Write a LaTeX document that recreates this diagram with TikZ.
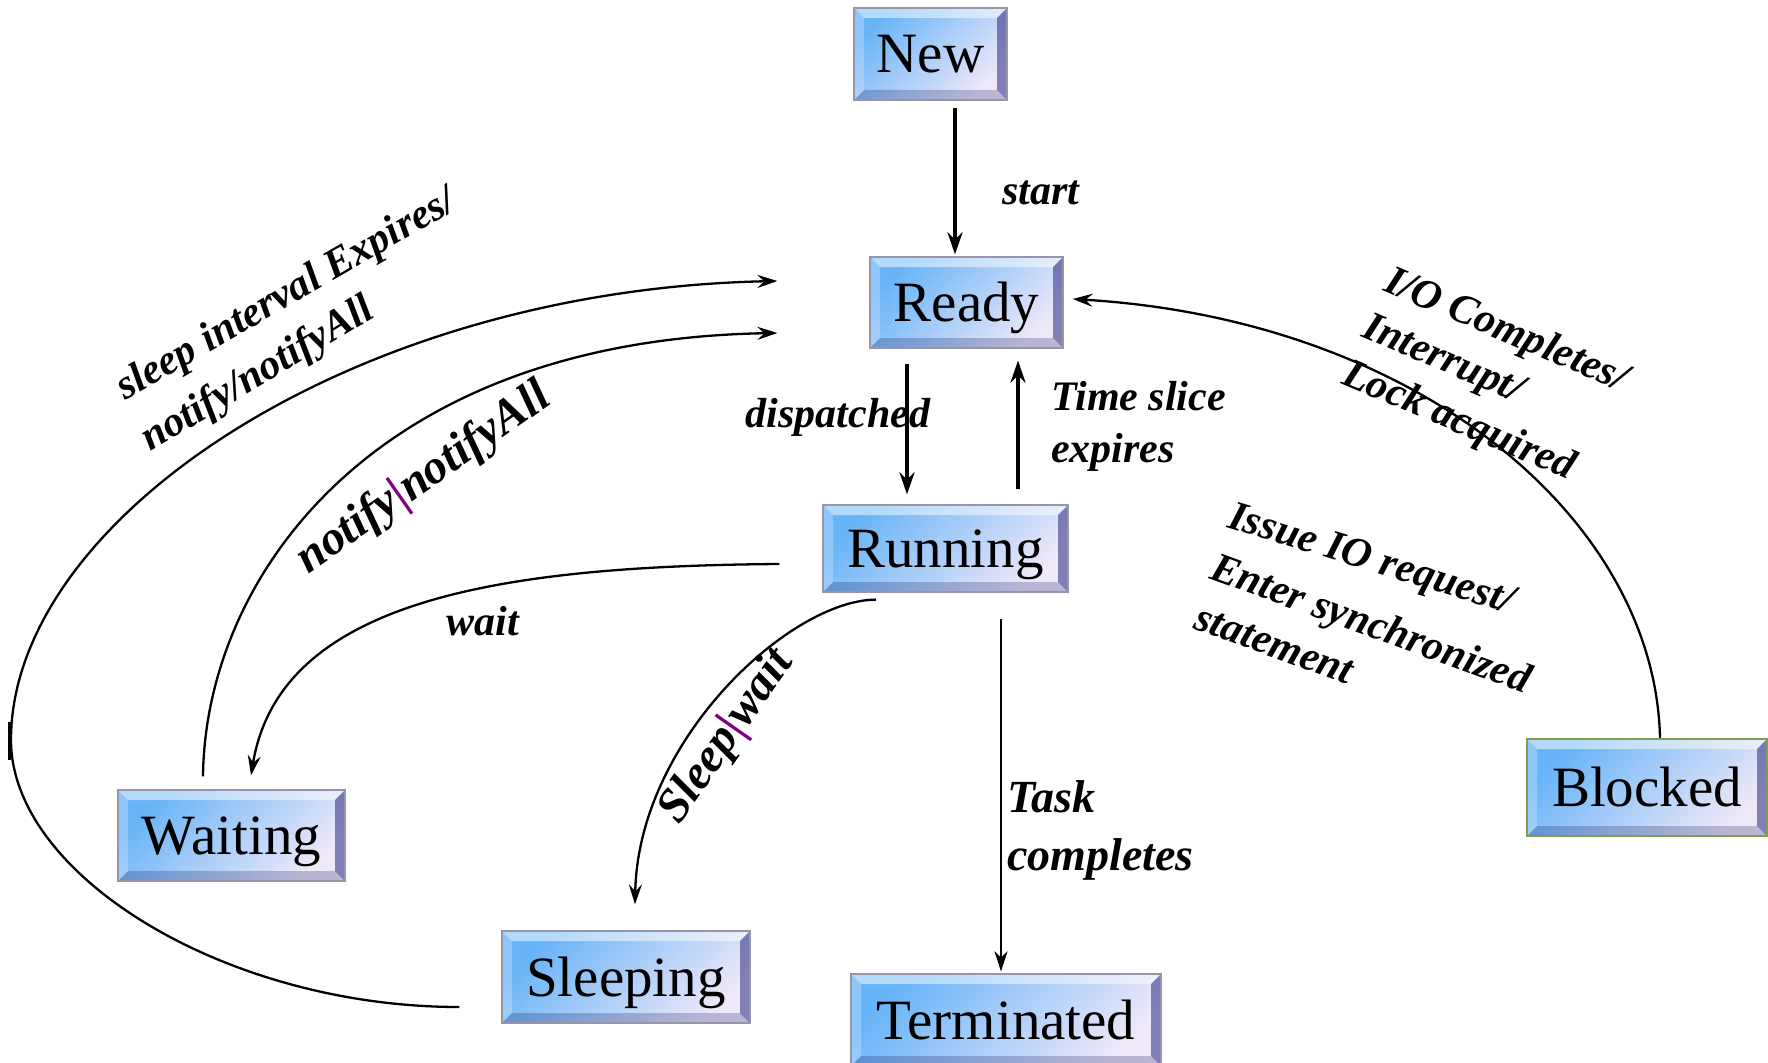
\documentclass[tikz,border=0pt]{standalone}
\usepackage{fontspec}
\setmainfont{Liberation Serif}
\usetikzlibrary{arrows.meta,calc}
\definecolor{boxblue}{RGB}{104,180,248}
\definecolor{boxlight}{RGB}{238,232,248}
\definecolor{boxedge}{RGB}{150,150,168}
\definecolor{blockedge}{RGB}{128,158,78}
\definecolor{barpurple}{RGB}{128,0,128}
\newcommand\statebevel{%
  \path (path picture bounding box.north west) coordinate (bnw)
        (path picture bounding box.north east) coordinate (bne)
        (path picture bounding box.south west) coordinate (bsw)
        (path picture bounding box.south east) coordinate (bse);
  \path ([xshift=10pt,yshift=-10pt]bnw) coordinate (inw)
        ([xshift=-10pt,yshift=-10pt]bne) coordinate (ine)
        ([xshift=10pt,yshift=10pt]bsw) coordinate (isw)
        ([xshift=-10pt,yshift=10pt]bse) coordinate (ise);
  \fill[white,opacity=.5] (bnw) -- (bne) -- (ine) -- (inw) -- cycle;
  \fill[white,opacity=.25] (bnw) -- (inw) -- (isw) -- (bsw) -- cycle;
  \fill[black!60!blue,opacity=.45] (bne) -- (bse) -- (ise) -- (ine) -- cycle;
  \fill[black!70!blue,opacity=.22] (bsw) -- (isw) -- (ise) -- (bse) -- cycle;
}
\begin{document}
\begin{tikzpicture}[x=1pt,y=-1pt,
  state/.style={draw=boxedge, line width=1.2pt, inner sep=0pt,
    font=\fontsize{57}{60}\selectfont, text height=38pt, text depth=0pt,
    top color=boxblue, bottom color=boxlight, shading angle=45,
    path picture={\statebevel}},
  lbl/.style={inner sep=0pt, font=\fontsize{42}{52}\selectfont\bfseries\itshape},
  lbltask/.style={inner sep=0pt, font=\fontsize{46}{58}\selectfont\bfseries\itshape},
  lblbig/.style={inner sep=0pt, font=\fontsize{48}{58}\selectfont\bfseries\itshape},
  thickarrow/.style={line width=3.6pt, -{Stealth[length=22pt,width=15pt]}},
  thinarrow/.style={line width=2.2pt, -{Stealth[length=20pt,width=13pt,inset=6pt]}},
  curvearrow/.style={line width=2.3pt, -{Stealth[length=20pt,width=13pt,inset=7pt]}},
  curveline/.style={line width=2.3pt}
]
\useasboundingbox (0,0) rectangle (1768,1062);

% states
\node[state, minimum width=153pt, minimum height=92pt] (new) at (930.5,54) {New};
\node[state, minimum width=193pt, minimum height=91pt] (ready) at (966.5,302.5) {Ready};
\node[state, minimum width=245pt, minimum height=87pt] (running) at (945.5,548.5) {Running};
\node[state, draw=blockedge, line width=2.5pt, minimum width=240pt, minimum height=97pt] (blocked) at (1647,787.5) {Blocked};
\node[state, minimum width=227pt, minimum height=91pt] (waiting) at (231.5,835.5) {Waiting};
\node[state, minimum width=248pt, minimum height=92pt] (sleeping) at (626,977) {Sleeping};
\node[state, minimum width=310pt, minimum height=92pt] (terminated) at (1006,1020) {Terminated};

% straight transitions
\draw[thickarrow] ([xshift=24.5pt,yshift=-7pt]new.south) -- ([xshift=-11.5pt,yshift=2pt]ready.north);
\draw[thickarrow] ([xshift=-59.5pt,yshift=-15pt]ready.south) -- ([xshift=-38.5pt,yshift=10pt]running.north);
\draw[thickarrow] ([xshift=72.5pt,yshift=15pt]running.north) -- ([xshift=51.5pt,yshift=-12pt]ready.south);
\draw[thinarrow] ([xshift=55.5pt,yshift=-26pt]running.south) -- ([xshift=-5pt,yshift=2pt]terminated.north);

% curved transitions
\draw[curvearrow] ([xshift=13pt]blocked.north) .. controls (1655,520) and (1420,320) .. ([xshift=9pt,yshift=3.5pt]ready.east);
\draw[curvearrow] ([xshift=-43pt,yshift=-15.5pt]running.west) .. controls (500,566) and (280,600) .. ([xshift=19.5pt,yshift=14pt]waiting.north);
\draw[curvearrow] ([xshift=-28.5pt,yshift=13pt]waiting.north) .. controls (205,580) and (370,340) .. ([xshift=-92pt,yshift=-30.5pt]ready.west);
\coordinate (sweep) at (11,740);
\draw[curvearrow] ([xshift=-42pt,yshift=-30pt]sleeping.west) .. controls (225,1007) and (11,875) .. (sweep) .. controls (11,520) and (350,290) .. ([xshift=-92pt,yshift=21.5pt]ready.west);
\draw[curveline] ([xshift=-1.5pt,yshift=18pt]sweep) -- ([xshift=-1.5pt,yshift=-20pt]sweep);
\draw[curvearrow] ([xshift=-69.5pt,yshift=-7pt]running.south) .. controls (790,600) and (638,740) .. ([xshift=9pt,yshift=26pt]sleeping.north);

% labels
\node[lbl] (lstart) at (1041,193) {start};
\node[lbl] (ldisp) at (838,417) {dispatched};
\node[lbl, align=left, anchor=west] (ltime) at (1051,426) {Time slice\\expires};
\node[lbltask, align=left, anchor=west] (ltask) at (1007,830) {Task\\completes};
\node[lbl] (lwait) at (483,621) {wait};
\node[lblbig, rotate=35] (lnotify) at (424,479) {notify{\color{barpurple}|}notifyAll};
\node[lblbig, rotate=55] (lsleep) at (727,737) {Sleep{\color{barpurple}|}wait};
\node[lbl, rotate=30, anchor=base west] (lsie1) at (125,401) {sleep interval Expires/};
\node[lbl, rotate=31, anchor=base west] (lsie2) at (150,452) {notify/notifyAll};
\node[lbl, rotate=-23, anchor=base west] (lio1) at (1382,290) {I/O Completes/};
\node[lbl, rotate=-23, anchor=base west] (lio2) at (1360,336) {Interrupt/};
\node[lbl, rotate=-23, anchor=base west] (lio3) at (1340,383) {Lock acquired};
\node[lbl, rotate=-17, anchor=base west] (liss1) at (1226,527) {Issue IO request/};
\node[lbl, rotate=-20, anchor=base west] (liss2) at (1208,578) {Enter synchronized};
\node[lbl, rotate=-20, anchor=base west] (liss3) at (1192,628) {statement};
\end{tikzpicture}
\end{document}
